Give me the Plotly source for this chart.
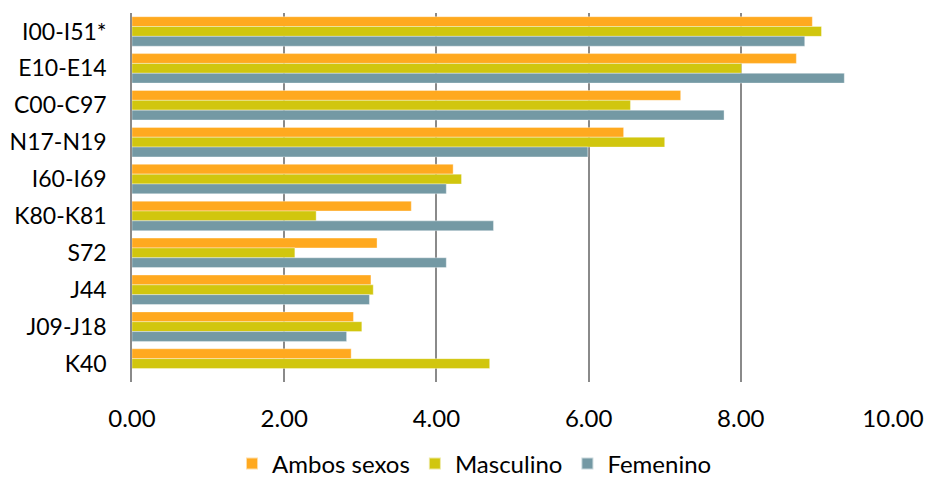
import plotly.graph_objects as go

categories = ["I00-I51*", "E10-E14", "C00-C97", "N17-N19", "I60-I69",
              "K80-K81", "S72", "J44", "J09-J18", "K40"]
ambos = [8.94, 8.73, 7.21, 6.46, 4.22, 3.67, 3.22, 3.14, 2.91, 2.88]
masculino = [9.06, 8.01, 6.55, 7.00, 4.33, 2.42, 2.14, 3.17, 3.02, 4.70]
femenino = [8.84, 9.36, 7.78, 5.99, 4.13, 4.75, 4.13, 3.12, 2.82, None]
series_names = ["Ambos sexos", "Masculino", "Femenino"]
tick_vals = [0, 2, 4, 6, 8, 10]
tick_text = ["0.00", "2.00", "4.00", "6.00", "8.00", "10.00"]

colors = ["#FFA91F", "#D1C60E", "#7499A4"]
FONT = "Lato"

fig = go.Figure()
for name, vals, col in zip(series_names, [ambos, masculino, femenino], colors):
    fig.add_trace(go.Bar(
        y=categories, x=vals, name=name, orientation="h",
        marker=dict(color=col, line=dict(color="rgba(255,255,255,0.6)", width=0.6)),
    ))

fig.update_layout(
    width=925, height=482,
    margin=dict(l=132, r=32, t=13, b=100, autoexpand=False),
    barmode="group", bargap=0.2, bargroupgap=0,
    plot_bgcolor="white", paper_bgcolor="white",
    font=dict(family=FONT, size=23, color="#000000"),
    showlegend=True,
    legend=dict(orientation="h", xref="container", x=0.513, xanchor="center",
                yref="paper", y=-0.222, yanchor="middle",
                font=dict(family=FONT, size=24), traceorder="normal",
                itemwidth=30, itemsizing="constant"),
)
fig.update_xaxes(range=[0, 10], tickvals=tick_vals, ticktext=tick_text,
                 showgrid=True, gridcolor="#8a8a8a", gridwidth=1.5,
                 zeroline=False, showline=False, ticks="",
                 ticklabelstandoff=20, tickfont=dict(family=FONT, size=24))
fig.update_yaxes(autorange="reversed", showgrid=False, showline=True,
                 linecolor="#8a8a8a", linewidth=1.5, ticks="",
                 ticklabelstandoff=19, tickfont=dict(family=FONT, size=23))

fig.write_html("out.html", config={"displayModeBar": False},
               post_script="document.body.style.margin='0';")
